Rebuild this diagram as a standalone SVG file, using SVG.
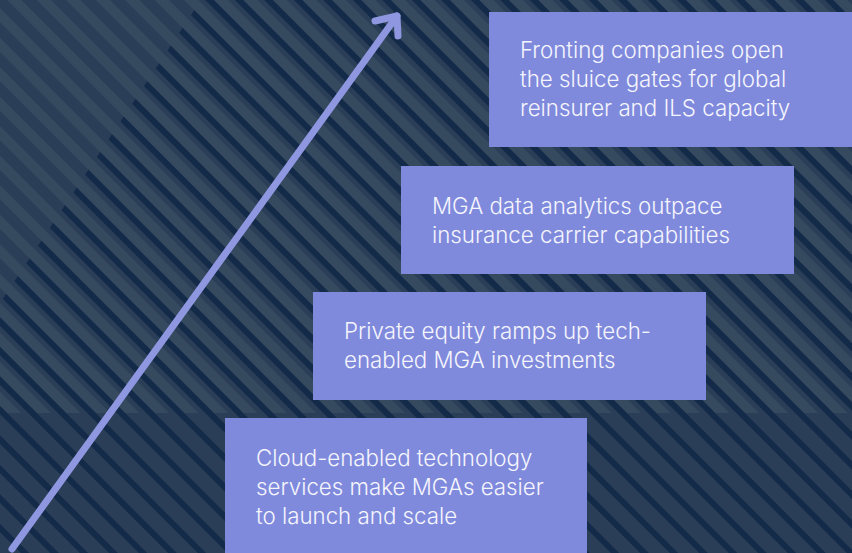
<svg xmlns="http://www.w3.org/2000/svg" width="852" height="553" viewBox="0 0 852 553">
  <style>
    .box rect { fill: #7f8adc; }
    .box text { fill: #f5f5fc; font-family: Inter, "Noto Sans", "Liberation Sans", sans-serif; font-size: 22.3px; font-weight: 300; }
    .conn { fill: none; stroke: #8e97e0; stroke-width: 7; stroke-linecap: round; stroke-linejoin: round; }
  </style>
  <defs>
    <!-- diagonal stripe tiles, 29.5px apart horizontally -->
    <pattern id="darkStripes" patternUnits="userSpaceOnUse" width="40" height="20.86" patternTransform="rotate(45) translate(0,-5.12)">
      <rect x="0" y="0" width="40" height="6" fill="#132a48"/>
    </pattern>
    <pattern id="lightBands" patternUnits="userSpaceOnUse" width="40" height="20.86" patternTransform="rotate(45) translate(0,-15.12)">
      <rect x="0" y="0" width="40" height="10" fill="#35495f"/>
    </pattern>
    <clipPath id="darkArea">
      <polygon points="201,0 852,0 852,553 0,553 0,303"/>
    </clipPath>
  </defs>

  <!-- background -->
  <rect width="852" height="553" fill="#2b3e57"/>
  <rect width="852" height="413" fill="url(#lightBands)"/>
  <rect width="852" height="553" fill="url(#darkStripes)" clip-path="url(#darkArea)"/>

  <!-- rising arrow -->
  <g id="connectors">
    <line class="conn" x1="12" y1="549" x2="397" y2="16"/>
    <polyline class="conn" points="375,21 397,16 398,36"/>
  </g>

  <g id="step4" class="box">
    <rect x="225" y="418" width="362" height="135"/>
    <text x="256" y="466">Cloud-enabled technology</text>
    <text x="256" y="495">services make MGAs easier</text>
    <text x="256" y="524">to launch and scale</text>
  </g>

  <g id="step3" class="box">
    <rect x="313" y="292" width="393" height="108"/>
    <text x="344" y="339">Private equity ramps up tech-</text>
    <text x="344" y="368">enabled MGA investments</text>
  </g>

  <g id="step2" class="box">
    <rect x="401" y="166" width="393" height="108"/>
    <text x="432" y="214">MGA data analytics outpace</text>
    <text x="432" y="243">insurance carrier capabilities</text>
  </g>

  <g id="step1" class="box">
    <rect x="489" y="12" width="363" height="135"/>
    <text x="520" y="58">Fronting companies open</text>
    <text x="520" y="87">the sluice gates for global</text>
    <text x="520" y="116">reinsurer and ILS capacity</text>
  </g>
</svg>
